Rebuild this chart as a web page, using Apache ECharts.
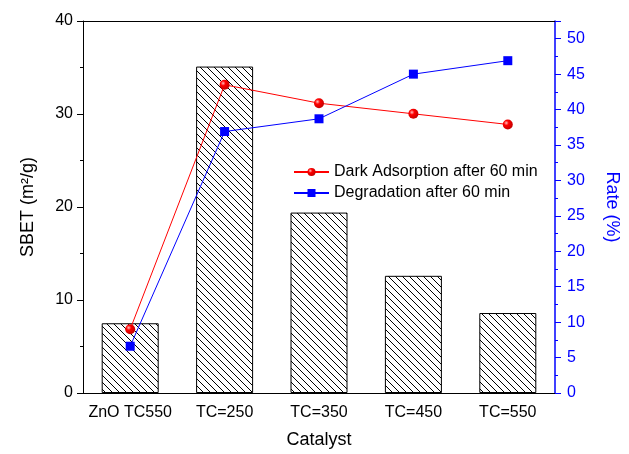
<!DOCTYPE html>
<html>
<head>
<meta charset="utf-8">
<script src="https://cdn.jsdelivr.net/npm/echarts@6/dist/echarts.min.js"></script>
<style>
  html, body { margin: 0; padding: 0; background: #fff; }
  #main { width: 629px; height: 454px; }
</style>
</head>
<body>
<div id="main"></div>
<script>
var categories = ['ZnO TC550', 'TC=250', 'TC=350', 'TC=450', 'TC=550'];
var sbet = [7.5, 35.1, 19.4, 12.6, 8.6];
var darkAdsorption = [9.0, 43.5, 40.9, 39.4, 37.9];
var degradation = [6.6, 36.9, 38.7, 45.0, 46.9];

var font = 'Liberation Sans, Arial, sans-serif';

// hatch pattern for the bars
var hatch = document.createElement('canvas');
hatch.width = 7;
hatch.height = 7;
var hctx = hatch.getContext('2d');
hctx.fillStyle = '#fff';
hctx.fillRect(0, 0, 7, 7);
hctx.strokeStyle = '#000';
hctx.lineWidth = 1;
hctx.beginPath();
hctx.moveTo(-1, -1); hctx.lineTo(8, 8);
hctx.moveTo(-1, 6); hctx.lineTo(1, 8);
hctx.moveTo(6, -1); hctx.lineTo(8, 1);
hctx.stroke();

var chart = echarts.init(document.getElementById('main'));

var option = {
    animation: false,
    textStyle: { fontFamily: font },
    grid: { left: 83, right: 66, top: 21, bottom: 60 },
    legend: {
        orient: 'vertical',
        left: 288,
        top: 159,
        itemWidth: 35,
        itemHeight: 10,
        itemGap: 5,
        textStyle: { fontSize: 16, color: '#000', fontFamily: font },
        data: ['Dark Adsorption after 60 min', 'Degradation after 60 min']
    },
    xAxis: [
        {
            type: 'category',
            data: categories,
            position: 'bottom',
            name: 'Catalyst',
            nameLocation: 'middle',
            nameGap: 38,
            nameTextStyle: { fontSize: 18, color: '#000' },
            axisLine: { lineStyle: { color: '#000', width: 1 } },
            axisTick: { alignWithLabel: true, length: 5, lineStyle: { color: '#000' } },
            axisLabel: { fontSize: 16, color: '#000', margin: 12, interval: 0 }
        },
        {
            type: 'category',
            data: categories,
            position: 'bottom',
            axisLine: { show: false },
            axisTick: { length: 3, lineStyle: { color: '#000' } },
            axisLabel: { show: false }
        },
        {
            type: 'category',
            data: categories,
            position: 'top',
            axisLine: { lineStyle: { color: '#000', width: 1 } },
            axisTick: { alignWithLabel: true, inside: true, length: 6, lineStyle: { color: '#000' } },
            axisLabel: { show: false }
        },
        {
            type: 'category',
            data: categories,
            position: 'top',
            axisLine: { show: false },
            axisTick: { inside: true, length: 3, lineStyle: { color: '#000' } },
            axisLabel: { show: false }
        }
    ],
    yAxis: [
        {
            type: 'value',
            position: 'left',
            min: 0,
            max: 40,
            interval: 10,
            name: 'SBET (m²/g)',
            nameLocation: 'middle',
            nameRotate: 90,
            nameGap: 46,
            nameTextStyle: { fontSize: 18, color: '#000' },
            axisLine: { show: true, lineStyle: { color: '#000', width: 1 } },
            axisTick: { show: true, length: 6, lineStyle: { color: '#000' } },
            minorTick: { show: true, splitNumber: 2, length: 3, lineStyle: { color: '#000' } },
            axisLabel: { fontSize: 16, color: '#000', margin: 10 },
            splitLine: { show: false }
        },
        {
            type: 'value',
            position: 'right',
            min: 0,
            max: 52.5,
            interval: 5,
            name: 'Rate (%)',
            nameLocation: 'middle',
            nameRotate: -90,
            nameGap: 48,
            nameTextStyle: { fontSize: 18, color: '#0000ff' },
            axisLine: { show: true, lineStyle: { color: '#0000ff', width: 1.5 } },
            axisTick: { show: true, length: 6, lineStyle: { color: '#0000ff' } },
            minorTick: { show: true, splitNumber: 2, length: 3, lineStyle: { color: '#0000ff' } },
            axisLabel: { fontSize: 16, color: '#0000ff', margin: 12, showMaxLabel: false },
            splitLine: { show: false }
        }
    ],
    series: [
        {
            name: 'SBET',
            type: 'bar',
            xAxisIndex: 0,
            yAxisIndex: 0,
            barWidth: 57,
            data: sbet,
            itemStyle: {
                color: { image: hatch, repeat: 'repeat' },
                borderColor: '#000',
                borderWidth: 1
            }
        },
        {
            name: 'Dark Adsorption after 60 min',
            type: 'line',
            xAxisIndex: 0,
            yAxisIndex: 1,
            data: darkAdsorption,
            symbol: 'circle',
            symbolSize: 10,
            lineStyle: { color: '#ff0000', width: 1 },
            itemStyle: {
                color: new echarts.graphic.RadialGradient(0.35, 0.35, 0.7, [
                    { offset: 0, color: '#ffc0c0' },
                    { offset: 0.35, color: '#ff0000' },
                    { offset: 1, color: '#c00000' }
                ])
            }
        },
        {
            name: 'Degradation after 60 min',
            type: 'line',
            xAxisIndex: 0,
            yAxisIndex: 1,
            data: degradation,
            symbol: 'rect',
            symbolSize: 9,
            lineStyle: { color: '#0000ff', width: 1 },
            itemStyle: { color: '#0000ff' }
        }
    ]
};

chart.setOption(option);
</script>
</body>
</html>
